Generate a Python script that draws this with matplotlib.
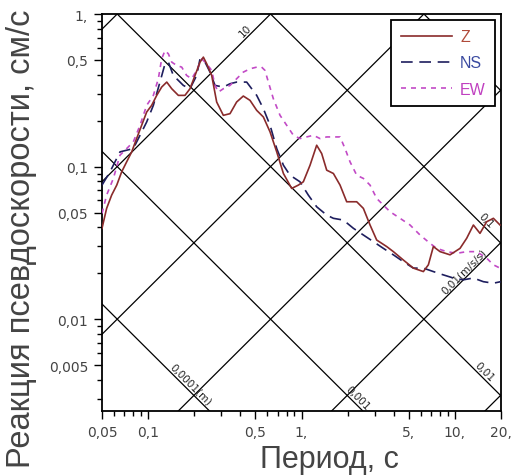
import numpy as np
import matplotlib
matplotlib.use("Agg")
import matplotlib.pyplot as plt
from matplotlib.ticker import FixedLocator, LogLocator, NullFormatter

plt.rcParams["font.family"] = ["Liberation Sans", "DejaVu Sans"]

# --- data (period, s / pseudo-velocity, cm/s) ---
z_period = [0.05, 0.0536, 0.0578, 0.0624, 0.0672, 0.0724, 0.0781, 0.0841, 0.0907, 0.0978,
            0.1054, 0.1137, 0.1225, 0.1322, 0.1425, 0.1574, 0.1738, 0.1874, 0.2021, 0.2179,
            0.2291, 0.2409, 0.2596, 0.2798, 0.3092, 0.3418, 0.3775, 0.4174, 0.4616, 0.5103,
            0.5641, 0.6237, 0.6894, 0.762, 0.863, 0.9539, 1.028, 1.137, 1.256, 1.354,
            1.46, 1.614, 1.784, 1.971, 2.291, 2.532, 2.799, 3.093, 3.594, 3.972,
            4.616, 5.364, 6.233, 6.72, 7.243, 8.007, 9.303, 10.81, 11.95, 13.21,
            14.59, 16.13, 17.84, 19.71]
z_psv = [0.0394, 0.0532, 0.065, 0.0756, 0.0924, 0.1074, 0.1248, 0.1526, 0.1865, 0.2278,
         0.2519, 0.2928, 0.332, 0.3579, 0.3237, 0.2928, 0.2928, 0.3237, 0.3957, 0.4836,
         0.5215, 0.4716, 0.3957, 0.2649, 0.2167, 0.2222, 0.2649, 0.2899, 0.2716, 0.2336,
         0.2113, 0.1687, 0.1248, 0.0901, 0.0719, 0.0756, 0.0795, 0.1021, 0.138, 0.1217,
         0.0947, 0.0901, 0.0756, 0.0588, 0.0588, 0.0532, 0.0414, 0.033, 0.0299, 0.0277,
         0.0244, 0.0216, 0.0205, 0.0227, 0.0299, 0.0277, 0.0264, 0.0291, 0.0339, 0.0414,
         0.0365, 0.0435, 0.0458, 0.0414]

ns_period = [0.05, 0.0564, 0.0655, 0.0724, 0.08, 0.0885, 0.0978, 0.1081, 0.1194, 0.1288,
             0.1355, 0.1459, 0.1696, 0.1874, 0.2072, 0.2179, 0.2349, 0.2532, 0.2729, 0.3092,
             0.3418, 0.3775, 0.4391, 0.5103, 0.5641, 0.6237, 0.6894, 0.762, 0.8414, 0.9772,
             1.108, 1.256, 1.46, 1.614, 1.875, 2.179, 2.532, 2.943, 3.42, 3.972,
             4.616, 5.364, 6.233, 7.243, 8.418, 9.779, 11.36, 13.21, 15.35, 17.84, 19.9]
ns_psv = [0.0756, 0.0924, 0.1248, 0.128, 0.1312, 0.1604, 0.196, 0.2519, 0.3579, 0.4716,
          0.4836, 0.3957, 0.3404, 0.3237, 0.3957, 0.5085, 0.4836, 0.416, 0.3404, 0.332,
          0.349, 0.3579, 0.3579, 0.2928, 0.2396, 0.1865, 0.1312, 0.1021, 0.0878, 0.0795,
          0.065, 0.0545, 0.0481, 0.0458, 0.0446, 0.0394, 0.0356, 0.0322, 0.0291, 0.0264,
          0.0238, 0.0216, 0.0216, 0.0205, 0.0195, 0.0186, 0.0181, 0.0186, 0.0176, 0.0172, 0.0176]

ew_period = [0.05, 0.0536, 0.0593, 0.0655, 0.0724, 0.08, 0.0885, 0.0978, 0.1081, 0.1165,
             0.1225, 0.1288, 0.1355, 0.1425, 0.1535, 0.1655, 0.1782, 0.1922, 0.2072, 0.2234,
             0.2409, 0.2596, 0.2729, 0.2869, 0.3092, 0.3418, 0.3775, 0.4174, 0.4616, 0.5103,
             0.5498, 0.5781, 0.6081, 0.6552, 0.7244, 0.8004, 0.885, 0.9772, 1.081, 1.195,
             1.321, 1.46, 1.614, 1.784, 1.923, 2.073, 2.291, 2.532, 2.799, 3.093,
             3.42, 3.779, 4.391, 5.104, 5.93, 6.89, 7.612, 8.85, 10.28, 11.95,
             13.88, 16.13, 17.84, 19.71]
ew_psv = [0.0493, 0.065, 0.0836, 0.1187, 0.1312, 0.1451, 0.1865, 0.2519, 0.2928, 0.3763,
          0.5085, 0.576, 0.548, 0.4836, 0.4599, 0.4485, 0.3957, 0.3763, 0.4266, 0.5085,
          0.4716, 0.4266, 0.3404, 0.3079, 0.3237, 0.3404, 0.3763, 0.416, 0.4374, 0.4485,
          0.4485, 0.4266, 0.3579, 0.2785, 0.2167, 0.1865, 0.1604, 0.1526, 0.1564, 0.1604,
          0.1526, 0.1564, 0.1564, 0.1564, 0.1312, 0.1074, 0.0878, 0.0836, 0.0756, 0.0618,
          0.0559, 0.0506, 0.0458, 0.0414, 0.0356, 0.0314, 0.0291, 0.0277, 0.027, 0.0277,
          0.0277, 0.0251, 0.0227, 0.0216]

# tripartite grid levels
sd_levels = [1e-4, 1e-3, 1e-2, 1e-1, 1.0]
psa_levels = [1e-3, 1e-2, 1e-1, 1.0, 10.0, 100.0]
# (family, level, period where the label sits, text)
grid_labels = [
    ("sd", 1e-4, 0.177, "0,0001(m)"),
    ("sd", 1e-3, 2.17, "0,001"),
    ("sd", 1e-2, 14.6, "0,01"),
    ("sd", 1e-1, 15.0, "0,1"),
    ("psa", 10.0, 0.46, "10"),
    ("psa", 1e-2, 12.2, "0,01(m/s/s)"),
]

x_ticks = [0.05, 0.1, 0.5, 1, 5, 10, 20]
x_ticklabels = ["0,05", "0,1", "0,5", "1,", "5,", "10,", "20,"]
y_ticks = [0.005, 0.01, 0.05, 0.1, 0.5, 1]
y_ticklabels = ["0,005", "0,01", "0,05", "0,1", "0,5", "1,"]

fig = plt.figure(figsize=(5.13, 4.77), dpi=100)
ax = fig.add_axes([102 / 513, 65 / 477, 399 / 513, 397 / 477])
ax.set_xscale("log")
ax.set_yscale("log")
ax.set_xlim(0.05, 20)
ax.set_ylim(0.0025, 1)

# diagonal lines
t_grid = np.logspace(np.log10(0.05), np.log10(20), 50)
for sd in sd_levels:
    ax.plot(t_grid, 2 * np.pi * sd / t_grid, color="black", lw=0.9, zorder=1)
for psa in psa_levels:
    ax.plot(t_grid, psa * t_grid / (2 * np.pi), color="black", lw=0.9, zorder=1)

for fam, lev, t, txt in grid_labels:
    if fam == "sd":
        v, rot, off = 2 * np.pi * lev / t, -45, (3, 3)
    else:
        v, rot, off = lev * t / (2 * np.pi), 45, (-3, 3)
    ax.annotate(txt, (t, v), xytext=off, textcoords="offset points",
                rotation=rot, rotation_mode="anchor", ha="center", va="center",
                fontsize=7.5, color="#222222", family="DejaVu Sans", zorder=2)

ax.plot(z_period, z_psv, color="#8a2b2b", lw=1.2, label="Z", zorder=4)
ax.plot(ns_period, ns_psv, color="#1e1e5e", lw=1.2, ls=(0, (7, 4)), label="NS", zorder=3)
ax.plot(ew_period, ew_psv, color="#c24ac6", lw=1.2, ls=(0, (3, 3)), label="EW", zorder=3)

leg = ax.legend(loc="upper right", borderaxespad=0.35, fontsize=11.5, fancybox=False,
                framealpha=1, edgecolor="black", handlelength=3.2, handletextpad=0.5,
                borderpad=0.6, labelspacing=0.7,
                labelcolor=["#b04a3a", "#3a4aa0", "#c040c0"])
leg.get_frame().set_linewidth(1.3)
leg.set_zorder(6)

ax.xaxis.set_major_locator(FixedLocator(x_ticks))
ax.set_xticklabels(x_ticklabels)
ax.xaxis.set_minor_locator(LogLocator(subs=np.arange(2, 10)))
ax.xaxis.set_minor_formatter(NullFormatter())
ax.yaxis.set_major_locator(FixedLocator(y_ticks))
ax.set_yticklabels(y_ticklabels)
ax.yaxis.set_minor_locator(LogLocator(subs=np.arange(2, 10)))
ax.yaxis.set_minor_formatter(NullFormatter())

ax.tick_params(which="both", direction="out", color="black", width=1,
               labelsize=10, labelcolor="#444444")
ax.tick_params(which="major", length=6, pad=4)
ax.tick_params(which="minor", length=3.5)
for lab in ax.get_xticklabels() + ax.get_yticklabels():
    lab.set_family("DejaVu Sans")
for sp in ax.spines.values():
    sp.set_linewidth(1.3)

fig.text(329 / 513, 1 - 460 / 477, "Период, с", ha="center", va="center",
         fontsize=22, color="#444444")
fig.text(22 / 513, 1 - 239 / 477, "Реакция псевдоскорости, см/с", ha="center", va="center",
         rotation=90, fontsize=23.5, color="#444444")

fig.savefig("out.png", dpi=100)
